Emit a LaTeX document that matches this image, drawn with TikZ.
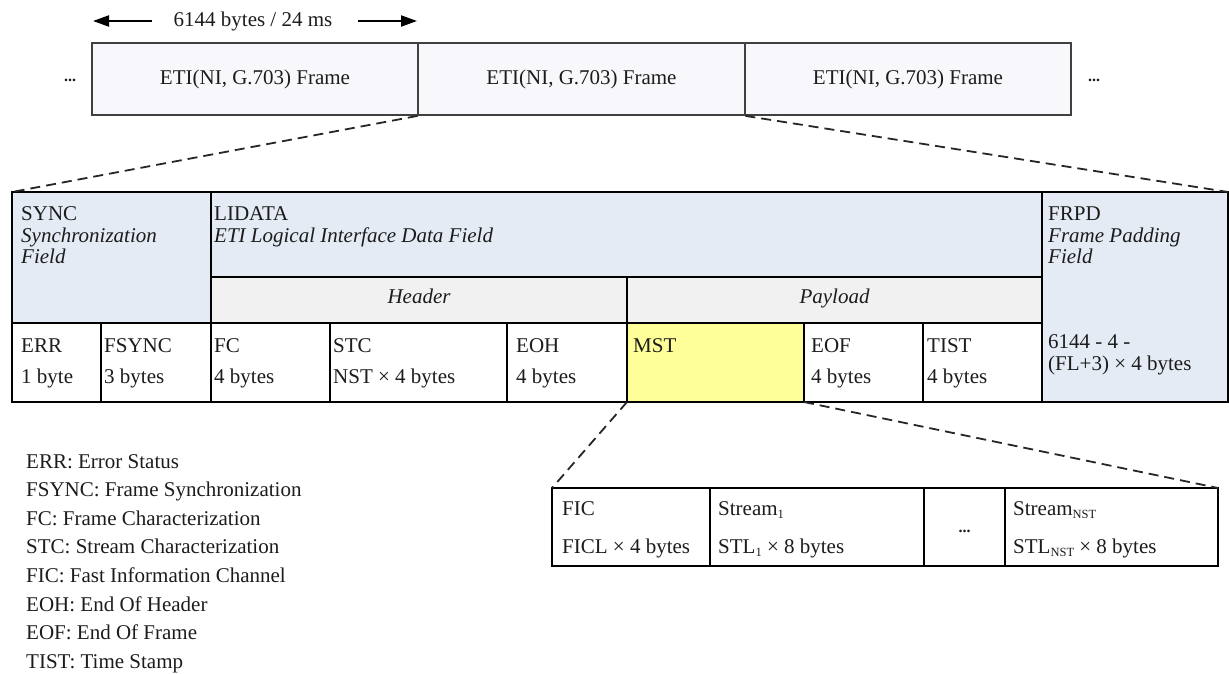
\documentclass[tikz,border=0pt]{standalone}
\usepackage{fontspec}
\setmainfont{Liberation Serif}
\usetikzlibrary{arrows.meta,fit}
\definecolor{fieldblue}{HTML}{E4EBF5}
\definecolor{partgray}{HTML}{F1F1F1}
\definecolor{mstyellow}{HTML}{FFFF99}
\definecolor{framefill}{HTML}{F8F8FC}
\definecolor{ink}{HTML}{1C1C1C}
\newcommand\lowsub[1]{\raisebox{-3pt}{\fontsize{12.5}{12.5}\selectfont #1}}

\begin{document}
\begin{tikzpicture}[x=1pt,y=-1pt,
  txt/.style={font=\fontsize{21}{25}\selectfont, text=ink, inner sep=0pt, anchor=base west},
  ital/.style={txt, font=\fontsize{21}{25}\selectfont\itshape},
  fieldcell/.style={draw=black, line width=2pt, inner sep=0pt, outer sep=0pt},
  etiframe/.style={draw=black!75, line width=1.8pt, fill=framefill, inner sep=0pt,
    minimum width=326pt, minimum height=72pt, font=\fontsize{21}{25}\selectfont, text=ink},
  ellip/.style={font=\fontsize{16}{16}\selectfont\bfseries, text=ink, inner sep=0pt},
  zoomline/.style={draw=black!85, line width=1.8pt, dash pattern=on 10pt off 6pt},
  spanarrow/.style={line width=2pt, draw=black, -{Triangle[length=16pt,width=11pt]}}
]
\useasboundingbox (0,0) rectangle (1229,674);

% stream of ETI frames
\node[etiframe] (f1) at (255,79) {ETI(NI, G.703) Frame};
\node[etiframe] (f2) at (581.5,79) {ETI(NI, G.703) Frame};
\node[etiframe] (f3) at (908,79) {ETI(NI, G.703) Frame};
\node[ellip] (moreL) at (70,80) {...};
\node[ellip] (moreR) at (1094,80) {...};

% frame length annotation
\node[txt, anchor=base] (span) at (253,27) {6144 bytes / 24 ms};
\coordinate (spanLs) at (152,21);
\coordinate (spanL) at (93,21);
\coordinate (spanRs) at (358,21);
\coordinate (spanR) at (417,21);
\draw[spanarrow] (spanLs) -- (spanL);
\draw[spanarrow] (spanRs) -- (spanR);

% frame structure: upper rows
\node[fieldcell, fill=fieldblue, fit={(12,192) (211,323)}] (sync) {};
\node[fieldcell, fill=fieldblue, fit={(211,192) (1042,277)}] (lidata) {};
\node[fieldcell, fill=fieldblue, fit={(1042,192) (1228,402)}] (frpd) {};
\node[fieldcell, fill=partgray, fit={(211,277) (627,323)}] (header) {};
\node[fieldcell, fill=partgray, fit={(627,277) (1042,323)}] (payload) {};

% frame structure: field row
\node[fieldcell, fill=white, fit={(12,323) (101,402)}] (err) {};
\node[fieldcell, fill=white, fit={(101,323) (211,402)}] (fsync) {};
\node[fieldcell, fill=white, fit={(211,323) (330,402)}] (fc) {};
\node[fieldcell, fill=white, fit={(330,323) (507,402)}] (stc) {};
\node[fieldcell, fill=white, fit={(507,323) (627,402)}] (eoh) {};
\node[fieldcell, fill=mstyellow, fit={(627,323) (804,402)}] (mst) {};
\node[fieldcell, fill=white, fit={(804,323) (923,402)}] (eof) {};
\node[fieldcell, fill=white, fit={(923,323) (1042,402)}] (tist) {};

% main stream data detail
\node[fieldcell, fill=white, fit={(552,488) (710,566)}] (fic) {};
\node[fieldcell, fill=white, fit={(710,488) (924,566)}] (s1) {};
\node[fieldcell, fill=white, fit={(924,488) (1005,566)}] (sgap) {};
\node[fieldcell, fill=white, fit={(1005,488) (1218,566)}] (sn) {};

% zoom connectors
\draw[zoomline] (f2.south west) -- (sync.north west);
\draw[zoomline] (f2.south east) -- (frpd.north east);
\draw[zoomline] (mst.south west) -- (fic.north west);
\draw[zoomline] (mst.south east) -- (sn.north east);

% field texts
\node[txt] (syncA) at (21,220) {SYNC};
\node[ital] (syncB) at (21,242) {Synchronization};
\node[ital] (syncC) at (21,263) {Field};
\node[txt] (lidA) at (214,220) {LIDATA};
\node[ital] (lidB) at (214,242) {ETI Logical Interface Data Field};
\node[txt] (frpdA) at (1048,220) {FRPD};
\node[ital] (frpdB) at (1048,242) {Frame Padding};
\node[ital] (frpdC) at (1048,263) {Field};
\node[txt] (frpdD) at (1048,348) {6144 - 4 -};
\node[txt] (frpdE) at (1048,370) {(FL+3) × 4 bytes};
\node[ital, anchor=base] (headerT) at (419,303) {Header};
\node[ital, anchor=base] (payloadT) at (834.5,303) {Payload};

\node[txt] (errA) at (21,352) {ERR};
\node[txt] (errB) at (21,383) {1 byte};
\node[txt] (fsyncA) at (104,352) {FSYNC};
\node[txt] (fsyncB) at (104,383) {3 bytes};
\node[txt] (fcA) at (214,352) {FC};
\node[txt] (fcB) at (214,383) {4 bytes};
\node[txt] (stcA) at (333,352) {STC};
\node[txt] (stcB) at (333,383) {NST × 4 bytes};
\node[txt] (eohA) at (516,352) {EOH};
\node[txt] (eohB) at (516,383) {4 bytes};
\node[txt] (mstA) at (633,352) {MST};
\node[txt] (eofA) at (811,352) {EOF};
\node[txt] (eofB) at (811,383) {4 bytes};
\node[txt] (tistA) at (927,352) {TIST};
\node[txt] (tistB) at (927,383) {4 bytes};

\node[txt] (ficA) at (562,515) {FIC};
\node[txt] (ficB) at (562,553) {FICL × 4 bytes};
\node[txt] (s1A) at (718,515) {Stream\lowsub{1}};
\node[txt] (s1B) at (718,553) {STL\lowsub{1} × 8 bytes};
\node[ellip] (sgapT) at (964.5,531) {...};
\node[txt] (snA) at (1013,515) {Stream\lowsub{NST}};
\node[txt] (snB) at (1013,553) {STL\lowsub{NST} × 8 bytes};

% abbreviations
\node[txt] (lg1) at (26,468) {ERR: Error Status};
\node[txt] (lg2) at (26,496.6) {FSYNC: Frame Synchronization};
\node[txt] (lg3) at (26,525.2) {FC: Frame Characterization};
\node[txt] (lg4) at (26,553.8) {STC: Stream Characterization};
\node[txt] (lg5) at (26,582.4) {FIC: Fast Information Channel};
\node[txt] (lg6) at (26,611) {EOH: End Of Header};
\node[txt] (lg7) at (26,639.6) {EOF: End Of Frame};
\node[txt] (lg8) at (26,668.2) {TIST: Time Stamp};
\end{tikzpicture}
\end{document}
